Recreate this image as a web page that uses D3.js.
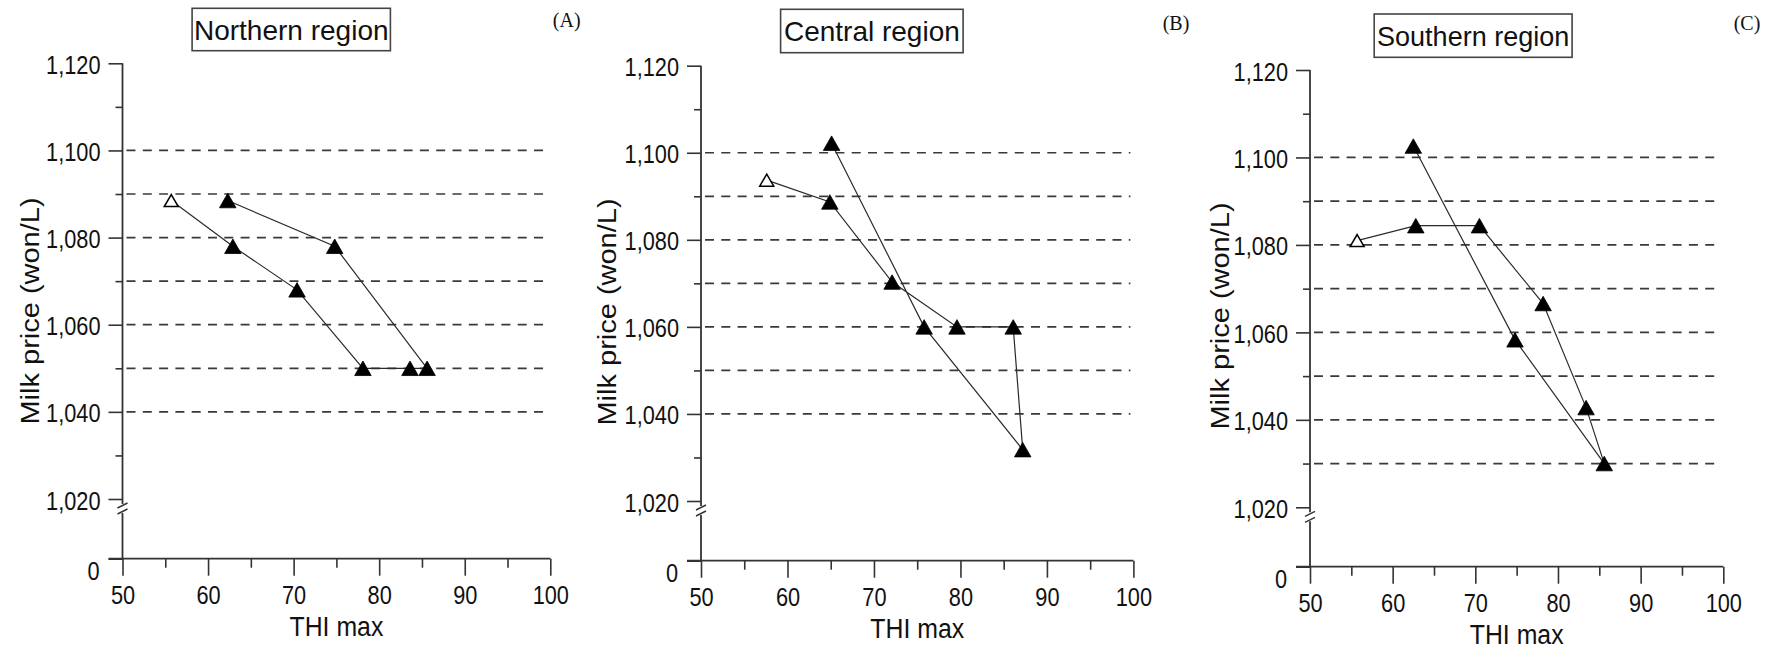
<!DOCTYPE html>
<html>
<head>
<meta charset="utf-8">
<script src="https://cdn.jsdelivr.net/npm/d3@7"></script>
<style>
  html, body { margin: 0; padding: 0; background: #fff; }
  svg { display: block; }
  text { font-family: "Liberation Sans", Arial, sans-serif; fill: #111; }
</style>
</head>
<body>
<svg id="chart" width="1776" height="649"></svg>
<script>
// ---------------- data ----------------
const titles = ["Northern region", "Central region", "Southern region"];
const panelLetters = ["(A)", "(B)", "(C)"];
const xTicks = [50, 60, 70, 80, 90, 100];
const xMinorTicks = [55, 65, 75, 85, 95];
const yTicks = [1020, 1040, 1060, 1080, 1100, 1120];
const yMinorTicks = [1030, 1050, 1070, 1090, 1110];
const zeroTick = [0];
const xLabel = "THI max";
const yLabel = "Milk price (won/L)";

// Series: first point is the open (hollow) triangle, path order as drawn
const northTHI   = [55.7, 62.9, 70.4, 78.1, 83.6, 85.6, 74.8, 62.3];
const northPrice = [1088.5, 1078, 1068, 1050, 1050, 1050, 1078, 1088.5];
const centralTHI   = [57.6, 64.9, 72.1, 79.6, 86.1, 87.2, 75.8, 65.1];
const centralPrice = [1093.7, 1088.7, 1070.3, 1060, 1060, 1031.8, 1060, 1102.2];
const southTHI   = [55.7, 62.8, 70.5, 78.2, 83.4, 85.6, 74.8, 62.5];
const southPrice = [1081, 1084.4, 1084.4, 1066.6, 1042.8, 1030, 1058.3, 1102.6];

const northGrid   = [1040, 1050, 1060, 1070, 1080, 1090, 1100];
const centralGrid = [1040, 1050, 1060, 1070, 1080, 1090, 1100];
const southGrid   = [1030, 1040, 1050, 1060, 1070, 1080, 1090, 1100];

// ---------------- layout ----------------
const layouts = [
  { left: 122.5, right: 550.3, top: 63.3, bottom: 499, zero: 558.7,
    box: [192.1, 8.3, 390.4, 50.7], letter: [566.7, 27], ylab: [30, 311] },
  { left: 701, right: 1133.4, top: 65.7, bottom: 501, zero: 560.7,
    box: [780.6, 9.3, 963.1, 52.7], letter: [1176, 30], ylab: [606.5, 312] },
  { left: 1310, right: 1723.3, top: 70, bottom: 507.3, zero: 566.7,
    box: [1374.2, 14, 1572.1, 57.3], letter: [1747, 30], ylab: [1220, 316] }
];
const seriesX = [northTHI, centralTHI, southTHI];
const seriesY = [northPrice, centralPrice, southPrice];
const grids = [northGrid, centralGrid, southGrid];

const AX = "#333";
const TICK_SX = 0.87;   // horizontal condensing of tick labels
const svg = d3.select("#chart");

function tri(w, h) {
  return `M0,${-h/2}L${w/2},${h/2}L${-w/2},${h/2}Z`;
}

layouts.forEach((L, i) => {
  const g = svg.append("g");
  const x = d3.scaleLinear().domain([50, 100]).range([L.left, L.right]);
  const y = d3.scaleLinear().domain([1020, 1120]).range([L.bottom, L.top]);
  const y0 = d3.scaleLinear().domain([0, 1]).range([L.zero, L.zero - 10]);

  // dashed gridlines
  g.append("g").selectAll("line").data(grids[i]).join("line")
    .attr("x1", L.left + 4).attr("x2", x(100) - 3)
    .attr("y1", d => y(d)).attr("y2", d => y(d))
    .attr("stroke", "#3a3a3a").attr("stroke-width", 1.7)
    .attr("stroke-dasharray", "9,7.3");

  // y axis major ticks
  const ya = g.append("g").attr("transform", `translate(${L.left},0)`)
    .call(d3.axisLeft(y).tickValues(yTicks).tickSize(14).tickFormat(d3.format(",")));
  ya.select(".domain").remove();
  ya.selectAll("line").attr("stroke", AX).attr("stroke-width", 1.6);
  ya.selectAll("text")
    .attr("x", -22 / TICK_SX).attr("dy", "0.4em")
    .attr("transform", `scale(${TICK_SX},1)`)
    .style("font-size", "25px").style("font-family", "'Liberation Sans', Arial, sans-serif")
    .attr("fill", "#111");

  // y axis minor ticks
  const ym = g.append("g").attr("transform", `translate(${L.left},0)`)
    .call(d3.axisLeft(y).tickValues(yMinorTicks).tickSize(7).tickFormat(""));
  ym.select(".domain").remove();
  ym.selectAll("line").attr("stroke", AX).attr("stroke-width", 1.6);

  // zero label (below the broken segment)
  const yz = g.append("g").attr("transform", `translate(${L.left},0)`)
    .call(d3.axisLeft(y0).tickValues(zeroTick).tickSize(14).tickFormat(d3.format("d")));
  yz.select(".domain").remove();
  yz.selectAll("line").attr("stroke", AX).attr("stroke-width", 1.6);
  yz.selectAll("text")
    .attr("x", -23 / TICK_SX).attr("dy", "0.85em")
    .attr("transform", `scale(${TICK_SX},1)`)
    .style("font-size", "25px").style("font-family", "'Liberation Sans', Arial, sans-serif")
    .attr("fill", "#111");

  // y axis line with break
  const bTop = y(1020) + 5, bBot = y(1020) + 14;
  g.append("line").attr("x1", L.left).attr("x2", L.left)
    .attr("y1", y(1120)).attr("y2", bTop)
    .attr("stroke", AX).attr("stroke-width", 1.8);
  g.append("line").attr("x1", L.left).attr("x2", L.left)
    .attr("y1", bBot).attr("y2", L.zero)
    .attr("stroke", AX).attr("stroke-width", 1.8);
  [[bTop + 4, bTop - 1], [bBot + 1, bBot - 4]].forEach(([a, b]) => {
    g.append("line")
      .attr("x1", L.left - 5).attr("y1", a)
      .attr("x2", L.left + 5).attr("y2", b)
      .attr("stroke", AX).attr("stroke-width", 1.5);
  });

  // x axis line (extends left as the 0 tick)
  g.append("line").attr("x1", L.left - 14).attr("x2", x(100))
    .attr("y1", L.zero).attr("y2", L.zero)
    .attr("stroke", AX).attr("stroke-width", 1.8);

  const xa = g.append("g").attr("transform", `translate(0,${L.zero})`)
    .call(d3.axisBottom(x).tickValues(xTicks).tickSize(17).tickPadding(11));
  xa.select(".domain").remove();
  xa.selectAll("line").attr("stroke", AX).attr("stroke-width", 1.6);
  xa.selectAll("text")
    .attr("transform", `scale(${TICK_SX},1)`)
    .style("font-size", "25px").style("font-family", "'Liberation Sans', Arial, sans-serif")
    .attr("fill", "#111");

  const xm = g.append("g").attr("transform", `translate(0,${L.zero})`)
    .call(d3.axisBottom(x).tickValues(xMinorTicks).tickSize(9).tickFormat(""));
  xm.select(".domain").remove();
  xm.selectAll("line").attr("stroke", AX).attr("stroke-width", 1.6);

  // axis titles
  g.append("text")
    .attr("transform", `translate(${(L.left + L.right) / 2},${L.zero + 77}) scale(0.92,1)`)
    .attr("text-anchor", "middle")
    .style("font-size", "27px")
    .text(xLabel);
  g.append("text")
    .attr("transform", `translate(${L.ylab[0]},${L.ylab[1]}) rotate(-90) scale(1,0.89)`)
    .attr("text-anchor", "middle").attr("dy", "0.36em")
    .style("font-size", "29px")
    .text(yLabel);

  // title box
  const [bx0, by0, bx1, by1] = L.box;
  g.append("rect").attr("x", bx0).attr("y", by0)
    .attr("width", bx1 - bx0).attr("height", by1 - by0)
    .attr("fill", "#fff").attr("stroke", "#444").attr("stroke-width", 1.6);
  g.append("text")
    .attr("x", (bx0 + bx1) / 2).attr("y", (by0 + by1) / 2 + 10)
    .attr("text-anchor", "middle")
    .style("font-size", i === 2 ? "27px" : "28px")
    .text(titles[i]);

  // panel letter
  g.append("text")
    .attr("x", L.letter[0]).attr("y", L.letter[1])
    .attr("text-anchor", "middle")
    .style("font-family", "'Liberation Serif', 'Times New Roman', serif")
    .style("font-size", "20px")
    .text(panelLetters[i]);

  // data line
  const pts = seriesX[i].map((v, k) => [v, seriesY[i][k]]);
  g.append("path").datum(pts)
    .attr("d", d3.line().x(d => x(d[0])).y(d => y(d[1])))
    .attr("fill", "none").attr("stroke", "#2a2a2a").attr("stroke-width", 1.2);

  // markers
  g.append("g").selectAll("path").data(pts).join("path")
    .attr("transform", d => `translate(${x(d[0])},${y(d[1])})`)
    .attr("d", (d, k) => k === 0 ? tri(14, 12) : tri(16.5, 14.5))
    .attr("fill", (d, k) => k === 0 ? "#fff" : "#000")
    .attr("stroke", "#000")
    .attr("stroke-width", (d, k) => k === 0 ? 1.5 : 0.8);
});
</script>
</body>
</html>
